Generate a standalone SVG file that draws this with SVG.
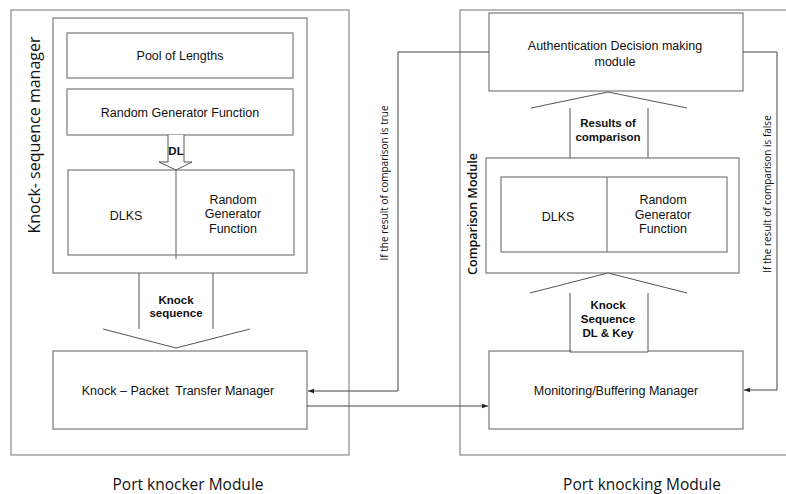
<svg xmlns="http://www.w3.org/2000/svg" width="786" height="494" viewBox="0 0 786 494">
<defs>
<style>
.box{fill:#fff;stroke:#7a7a7a;stroke-width:1.2}
.frame{fill:none;stroke:#8a8a8a;stroke-width:1.2}
.blk{fill:#fff;stroke:#555;stroke-width:1}
.ln{fill:none;stroke:#444;stroke-width:1}
.t{font-family:"Liberation Sans",Arial,sans-serif;font-size:12.5px;fill:#111;text-anchor:middle}
.b{font-family:"Liberation Sans",Arial,sans-serif;font-weight:bold;font-size:11.5px;fill:#111;text-anchor:middle}
.c{font-family:"Open Sans","DejaVu Sans",sans-serif;fill:#111;text-anchor:middle}
</style>
<marker id="ah" viewBox="0 0 6 6" refX="6" refY="3" markerWidth="6" markerHeight="6" orient="auto" markerUnits="userSpaceOnUse">
<path d="M0,0.8 L6,3 L0,5.2 Z" fill="#222"/>
</marker>
</defs>
<rect width="786" height="494" fill="#fff"/>

<g id="port-knocker-module">
<rect class="frame" x="11" y="10" width="338" height="445"/>
<text class="c" x="188" y="490" font-size="15.5">Port knocker Module</text>
</g>

<g id="port-knocking-module">
<rect class="frame" x="460" y="10" width="340" height="445"/>
<text class="c" x="642" y="490" font-size="15.5">Port knocking Module</text>
</g>

<g id="knock-sequence-manager">
<rect class="box" x="53" y="18" width="254" height="255"/>
<text class="c" transform="translate(40,135) rotate(-90)" font-size="16">Knock- sequence manager</text>
</g>

<g id="pool-of-lengths">
<rect class="box" x="67" y="33" width="226" height="45"/>
<text class="t" x="180" y="60">Pool of Lengths</text>
</g>

<g id="random-generator-function">
<rect class="box" x="67" y="89" width="226" height="46"/>
<text class="t" x="180" y="117">Random Generator Function</text>
</g>

<g id="dlks-sender">
<rect class="box" x="68" y="170" width="226" height="85"/>
<line class="box" x1="176" y1="170" x2="176" y2="259"/>
<text class="t" x="126" y="220" font-size="17">DLKS</text>
<text class="t" x="233" y="204" font-size="13">Random</text>
<text class="t" x="233" y="218" font-size="13">Generator</text>
<text class="t" x="233" y="233" font-size="13">Function</text>
</g>

<g id="knock-packet-transfer-manager">
<rect class="box" x="53" y="351" width="254" height="78"/>
<text class="t" x="178" y="395" font-size="13.2" xml:space="preserve">Knock – Packet  Transfer Manager</text>
</g>

<g id="authentication-decision-making-module">
<rect class="box" x="489" y="13" width="254" height="78"/>
<text class="t" x="615" y="50" font-size="13.5">Authentication Decision making</text>
<text class="t" x="615" y="66" font-size="13.5">module</text>
</g>

<g id="comparison-module">
<rect class="box" x="486" y="158" width="253" height="115"/>
<text class="c" transform="translate(477,214) rotate(-90)" font-size="12.5" font-weight="600">Comparison Module</text>
<rect class="box" x="501" y="177" width="226" height="75"/>
<line class="box" x1="607" y1="177" x2="607" y2="252"/>
<text class="t" x="558" y="221" font-size="17">DLKS</text>
<text class="t" x="663" y="204" font-size="13">Random</text>
<text class="t" x="663" y="219" font-size="13">Generator</text>
<text class="t" x="663" y="233" font-size="13">Function</text>
</g>

<g id="monitoring-buffering-manager">
<rect class="box" x="489" y="351" width="254" height="78"/>
<text class="t" x="616" y="395" font-size="13.2">Monitoring/Buffering Manager</text>
</g>

<g id="connectors">
<path class="blk" d="M168,135 L168,162 L159,162 L176,170 L192,162 L184,162 L184,135"/>
<text class="b" x="176" y="155" font-size="8">DL</text>

<path class="blk" d="M139,273 L139,329 M103,329 L176,348 L250,329 M213,329 L213,273"/>
<text class="b" x="176" y="304">Knock</text>
<text class="b" x="176" y="317">sequence</text>

<path class="blk" d="M570,158 L570,108 M531,108 L608,92 L687,108 M648,108 L648,158"/>
<text class="b" x="608" y="127">Results of</text>
<text class="b" x="608" y="141">comparison</text>

<path class="blk" d="M570,352 L570,293 M530,293 L608,273 L687,293 M648,293 L648,352 L570,352"/>
<text class="b" x="608" y="309">Knock</text>
<text class="b" x="608" y="323">Sequence</text>
<text class="b" x="608" y="337">DL &amp; Key</text>

<path class="ln" d="M489,52 L398,52 L398,391 L308,391" marker-end="url(#ah)"/>
<text class="c" transform="translate(388,183) rotate(-90)" font-size="10">If the result of comparison is true</text>

<path class="ln" d="M743,52 L777,52 L777,390 L744,390" marker-end="url(#ah)"/>
<text class="c" transform="translate(771,194) rotate(-90)" font-size="10">If the result of comparison is false</text>

<path class="ln" d="M307,406 L488,406" marker-end="url(#ah)"/>
</g>
</svg>
